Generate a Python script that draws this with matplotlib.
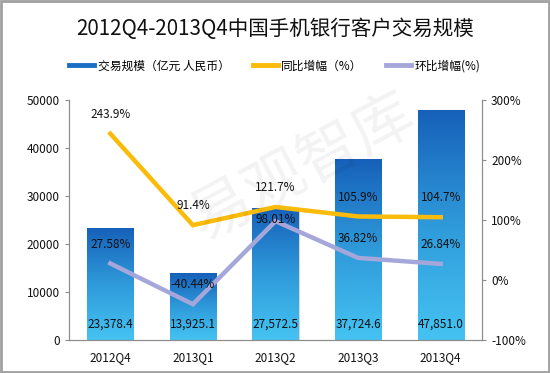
import numpy as np
import matplotlib
matplotlib.use('Agg')
import matplotlib.pyplot as plt
from matplotlib.lines import Line2D
from matplotlib.colors import LinearSegmentedColormap
from matplotlib.patches import Rectangle

plt.rcParams['font.family'] = ['Noto Sans CJK SC', 'DejaVu Sans']

quarters = ['2012Q4', '2013Q1', '2013Q2', '2013Q3', '2013Q4']
volume = [23378.4, 13925.1, 27572.5, 37724.6, 47851.0]
yoy = [243.9, 91.4, 121.7, 105.9, 104.7]
qoq = [27.58, -40.44, 98.01, 36.82, 26.84]

fig = plt.figure(figsize=(5.5, 3.73), dpi=100)
ax = fig.add_axes([69 / 550, 33 / 373, 413 / 550, 240 / 373])
ax2 = ax.twinx()

x = np.arange(len(quarters))
bars = ax.bar(x, volume, width=0.56, color='none', edgecolor='#d8d8d8', linewidth=0.8, zorder=2)

# vertical gradient inside each bar
cmap = LinearSegmentedColormap.from_list('blu', ['#45c3f2', '#2f9ada', '#1660b9'])
grad = np.linspace(0, 1, 256).reshape(-1, 1)
for b in bars:
    x0, w, h = b.get_x(), b.get_width(), b.get_height()
    im = ax.imshow(grad, cmap=cmap, origin='lower', aspect='auto',
                   extent=[x0, x0 + w, 0, h], zorder=2)
    clip = Rectangle((x0, 0), w, h, transform=ax.transData)
    im.set_clip_path(clip)

for i, v in enumerate(volume):
    ax.text(i, 3200, f'{v:,.1f}', ha='center', va='center', fontsize=8.5, color='#111111', zorder=5)

ax.set_xlim(-0.5, len(quarters) - 0.5)
ax.set_ylim(0, 50000)
ax.set_yticks(range(0, 50001, 10000))
ax2.set_ylim(-100, 300)
ax2.set_yticks(range(-100, 301, 100))
ax2.set_yticklabels([f'{t}%' for t in range(-100, 301, 100)])
ax.set_xticks(x)
ax.set_xticklabels(quarters)

ax2.plot(x, yoy, color='#fbbb0a', lw=3.2, solid_joinstyle='miter', zorder=3)
ax2.plot(x, qoq, color='#a5a7da', lw=3.2, solid_joinstyle='miter', zorder=3)

for i, v in enumerate(yoy):
    ax2.annotate(f'{v}%', (i, v), xytext=(0, 14), textcoords='offset points',
                 ha='center', va='center', fontsize=8.5, color='#111111', zorder=6)
qoq_off = [14, 14, 1, 14, 14]
for i, v in enumerate(qoq):
    ax2.annotate(f'{v:.2f}%', (i, v), xytext=(0, qoq_off[i]), textcoords='offset points',
                 ha='center', va='center', fontsize=8.5, color='#111111', zorder=6)

for a in (ax, ax2):
    a.spines['top'].set_visible(False)
    for s in ('left', 'right', 'bottom'):
        a.spines[s].set_color('#8c8c8c')
    a.tick_params(labelsize=8.5, colors='#8c8c8c', labelcolor='#111111', length=3)
ax.tick_params(axis='x', length=0, pad=8)
ax.set_zorder(ax2.get_zorder() - 1)
ax2.patch.set_visible(False)

# watermark
fig.text(0.55, 0.55, '易观智库', fontsize=44, color='#000000', alpha=0.05,
         rotation=28, ha='center', va='center')

fig.text(0.5, 1 - 29 / 373, '2012Q4-2013Q4中国手机银行客户交易规模', ha='center', va='center',
         fontsize=14.8, color='#111111')

handles = [
    Line2D([], [], color='#1a6fc4', lw=3.5),
    Line2D([], [], color='#fbbb0a', lw=3.5),
    Line2D([], [], color='#a5a7da', lw=3.5),
]
labels = ['交易规模（亿元 人民币）', '同比增幅（%）', '环比增幅(%)']
fig.legend(handles, labels, loc='center', bbox_to_anchor=(0.5, 1 - 66 / 373), ncol=3,
           frameon=False, fontsize=8.5, handlelength=2.1, handletextpad=0.3, columnspacing=2.0)

fig.patches.append(Rectangle((0.002, 0.003), 0.996, 0.994, transform=fig.transFigure,
                             fill=False, edgecolor='#a0a0a0', lw=2))

fig.savefig('out.png', dpi=100)
